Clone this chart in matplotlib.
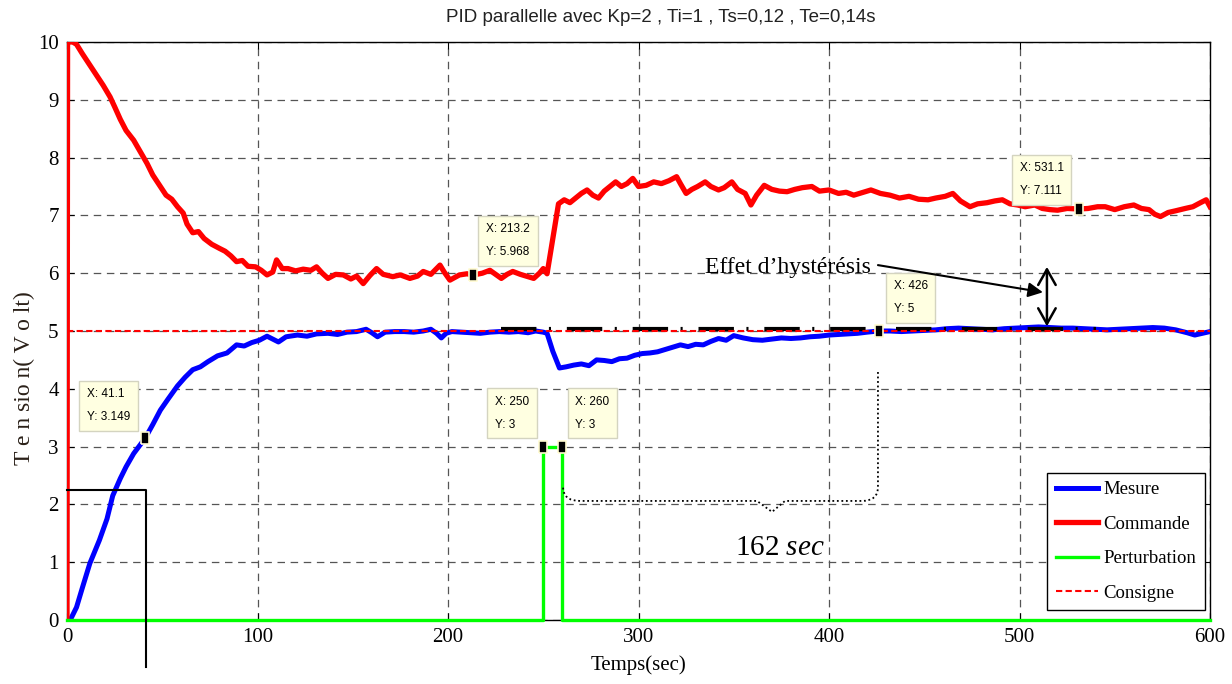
import matplotlib
matplotlib.use("Agg")
import matplotlib.pyplot as plt
from matplotlib.path import Path
from matplotlib.patches import PathPatch
from matplotlib.lines import Line2D

plt.rcParams["font.family"] = ["Liberation Serif", "DejaVu Serif"]
plt.rcParams["mathtext.fontset"] = "custom"
plt.rcParams["mathtext.rm"] = "Liberation Serif"
plt.rcParams["mathtext.it"] = "Liberation Serif:italic"

# ---------------- data ----------------
mesure_t = [0, 2, 5, 8, 12, 17, 21, 24, 28, 31, 35, 41.1, 45, 49, 53, 58, 62, 66, 70, 74,
            79, 84, 89, 93, 97, 101, 105, 108, 111, 115, 121, 126, 131, 137, 142, 147, 152,
            157, 160, 163, 167, 172, 177, 182, 187, 191, 194, 196.5, 199, 202, 207, 212,
            217, 222, 227, 232, 237, 242, 246, 250, 252, 255, 258.5, 262, 266, 270, 274,
            278, 282, 286, 290, 294, 298, 302, 306, 310, 314, 318, 322, 326, 330, 334, 338,
            342, 346, 350, 355, 360, 365, 370, 375, 380, 385, 390, 395, 400, 405, 410, 415,
            420, 426, 432, 438, 444, 450, 456, 462, 468, 474, 480, 486, 492, 498, 504, 510,
            516, 522, 528, 534, 540, 546, 552, 558, 564, 570, 576, 582, 588, 592, 596, 600]
mesure_v = [0.0, 0.02, 0.22, 0.55, 0.98, 1.38, 1.75, 2.15, 2.45, 2.65, 2.88, 3.149, 3.38,
            3.63, 3.82, 4.05, 4.20, 4.33, 4.38, 4.47, 4.57, 4.62, 4.76, 4.74, 4.80, 4.84,
            4.91, 4.86, 4.81, 4.90, 4.93, 4.91, 4.95, 4.96, 4.94, 4.98, 4.99, 5.03, 4.97,
            4.90, 4.98, 4.99, 4.99, 4.98, 5.00, 5.03, 4.96, 4.88, 4.96, 4.99, 4.98, 4.97,
            4.96, 4.98, 4.99, 4.98, 4.99, 4.97, 5.00, 4.98, 4.96, 4.65, 4.36, 4.38, 4.41,
            4.43, 4.40, 4.50, 4.49, 4.47, 4.52, 4.53, 4.58, 4.61, 4.62, 4.64, 4.68, 4.72,
            4.76, 4.73, 4.77, 4.76, 4.82, 4.87, 4.84, 4.92, 4.88, 4.85, 4.84, 4.86, 4.88,
            4.87, 4.88, 4.90, 4.91, 4.93, 4.94, 4.95, 4.96, 4.98, 5.00, 5.00, 4.99, 5.00,
            5.01, 5.02, 5.04, 5.05, 5.04, 5.03, 5.02, 5.04, 5.05, 5.06, 5.07, 5.06, 5.05,
            5.05, 5.04, 5.03, 5.02, 5.03, 5.04, 5.05, 5.06, 5.05, 5.02, 4.97, 4.93, 4.96,
            4.99]

commande_t = [0, 0.3, 3, 5, 8, 12, 15, 19, 22.6, 25, 28, 31, 35, 38, 42, 45, 49, 52, 55, 58,
              61, 63, 66, 69, 72, 76, 80, 83, 86, 89, 92, 95, 99, 102, 105, 108, 110, 113,
              116, 120, 124, 128, 131, 134, 137, 141, 145, 149, 152, 155.5, 159, 162.5, 166,
              171, 175, 180, 184, 187, 191, 195.8, 198, 201, 206, 210, 213.2, 218, 222, 225,
              228, 231, 234, 238, 241, 245, 248, 250, 252, 255, 258, 261, 264, 267, 270,
              273, 276, 279, 282, 285, 288, 291, 294, 297, 300, 304, 308, 312, 316, 320,
              322, 325, 328, 331, 335, 338, 342, 345, 349, 352, 356, 359, 362, 366, 370,
              374, 378, 382, 386, 391, 395, 400, 405, 409, 413, 418, 422, 427, 432, 437,
              442, 447, 452, 456, 461, 465, 469, 474, 478, 483, 487, 491, 495, 499, 503,
              508, 512, 516, 520, 525, 531.1, 536, 541, 545, 550, 555, 560, 564, 568, 571,
              574, 578, 582, 587, 591, 595, 598, 600]
commande_v = [0.0, 10.0, 10.0, 9.96, 9.80, 9.60, 9.45, 9.25, 9.05, 8.88, 8.66, 8.47, 8.30,
              8.13, 7.90, 7.70, 7.50, 7.35, 7.28, 7.15, 7.04, 6.85, 6.70, 6.72, 6.60, 6.50,
              6.43, 6.38, 6.30, 6.20, 6.22, 6.12, 6.11, 6.05, 5.97, 6.02, 6.23, 6.08, 6.08,
              6.04, 6.07, 6.05, 6.11, 6.00, 5.91, 5.98, 5.97, 5.90, 5.95, 5.82, 5.96, 6.08,
              5.98, 5.94, 5.97, 5.91, 5.95, 6.03, 5.98, 6.14, 6.02, 5.88, 5.97, 5.99, 5.968,
              6.00, 6.05, 5.98, 5.91, 5.98, 6.03, 5.98, 5.95, 5.91, 6.00, 6.08, 5.99, 6.60,
              7.20, 7.27, 7.22, 7.30, 7.38, 7.44, 7.35, 7.30, 7.42, 7.50, 7.58, 7.50, 7.55,
              7.64, 7.50, 7.52, 7.58, 7.55, 7.60, 7.67, 7.55, 7.38, 7.45, 7.50, 7.58, 7.50,
              7.44, 7.48, 7.58, 7.45, 7.38, 7.18, 7.35, 7.52, 7.45, 7.42, 7.41, 7.45, 7.48,
              7.50, 7.42, 7.44, 7.38, 7.40, 7.35, 7.40, 7.44, 7.38, 7.35, 7.30, 7.33, 7.28,
              7.27, 7.30, 7.33, 7.38, 7.25, 7.15, 7.20, 7.22, 7.25, 7.27, 7.20, 7.18, 7.15,
              7.18, 7.12, 7.10, 7.09, 7.12, 7.111, 7.12, 7.15, 7.15, 7.10, 7.15, 7.18, 7.12,
              7.10, 7.02, 6.98, 7.05, 7.08, 7.12, 7.15, 7.22, 7.27, 7.15]

perturbation_t = [0, 250, 250, 260, 260, 600]
perturbation_v = [0, 0, 3, 3, 0, 0]

consigne_t = [0, 600]
consigne_v = [5, 5]

# steady-state reference segment (black dash-dot)
palier_t = [228, 540]
palier_v = [5.04, 5.04]

# data tips
tips_x = [41.1, 213.2, 531.1, 426, 250, 260]
tips_y = [3.149, 5.968, 7.111, 5, 3, 3]
tips_lbl_x = ["41.1", "213.2", "531.1", "426", "250", "260"]
tips_lbl_y = ["3.149", "5.968", "7.111", "5", "3", "3"]

x_ticks = [0, 100, 200, 300, 400, 500, 600]
y_ticks = list(range(0, 11))

# ---------------- figure ----------------
W, H = 1232, 684
fig = plt.figure(figsize=(W / 100, H / 100), dpi=100)
ax = fig.add_axes([67 / W, 1 - 620 / H, (1210 - 67) / W, (620 - 42) / H])

ax.plot(mesure_t, mesure_v, color="#0000ff", lw=3.6, label="Mesure", zorder=3,
        solid_joinstyle="round")
ax.plot(commande_t, commande_v, color="#ff0000", lw=3.8, label="Commande", zorder=3,
        solid_joinstyle="round")
ax.plot(perturbation_t, perturbation_v, color="#00ff00", lw=2.4, label="Perturbation",
        zorder=3, clip_on=False)
ax.plot(palier_t, palier_v, color="black", lw=3.0, zorder=4,
        linestyle=(0, (8.5, 3.0, 0.5, 3.8)))
ax.plot(consigne_t, consigne_v, color="#ff0000", lw=1.5, linestyle=(0, (3, 1.6)),
        label="Consigne", zorder=5)

ax.set_xlim(0, 600)
ax.set_ylim(0, 10)
ax.set_xticks(x_ticks)
ax.set_yticks(y_ticks)
ax.tick_params(direction="in", length=5, width=0.8, top=True, right=True,
               labelsize=15, pad=6)
ax.grid(True, color="#555555", lw=0.9, linestyle=(0, (6, 4.5)))
for s in ax.spines.values():
    s.set_linewidth(1.0)
    s.set_color("black")

ax.set_xlabel("Temps(sec)", fontsize=15, labelpad=6)
fig.text(24 / W, 1 - 378 / H, "T e n sio n( V o lt)", rotation=90, fontsize=17,
         color="#2a2018", ha="center", va="center")
fig.text(661 / W, 1 - 18 / H, "PID parallelle avec Kp=2 , Ti=1 , Ts=0,12 , Te=0,14s",
         family=["Liberation Sans", "DejaVu Sans"], fontsize=13.5, color="#222222",
         ha="center", va="center")

# data tips
tip_marker = [(-2, -3), (2, -3), (2, 3), (-2, 3), (-2, -3)]
ax.plot(tips_x, tips_y, linestyle="none", marker=tip_marker, ms=9, mfc="black",
        mec="#fffbd0", mew=1.2, zorder=7, clip_on=False)
tip_offsets = [(-15, 15, "right"), (13, 17, "left"), (-15, 12, "right"),
               (15, 16, "left"), (-14, 16, "right"), (13, 16, "left")]
for x, y, lx, ly, (dx, dy, ha) in zip(tips_x, tips_y, tips_lbl_x, tips_lbl_y, tip_offsets):
    ax.annotate(f"X: {lx}\nY: {ly}", xy=(x, y), xytext=(dx, dy),
                textcoords="offset pixels", ha=ha, va="bottom", fontsize=8.5,
                multialignment="left",
                family=["Liberation Sans", "DejaVu Sans"], linespacing=2.2,
                bbox=dict(boxstyle="square,pad=0.65", fc="#ffffe1", ec="#d4d4c0", lw=1),
                zorder=8)

# hysteresis annotation
ax.text(335, 6.09, "Effet d\u2019hystérésis", fontsize=17, ha="left", va="center",
        zorder=9)
ax.annotate("", xy=(512.3, 5.67), xytext=(425.7, 6.14),
            arrowprops=dict(arrowstyle="-|>", color="black", lw=1.5, mutation_scale=22,
                            shrinkA=0, shrinkB=0), zorder=9)
ax.annotate("", xy=(514.4, 6.11), xytext=(514.4, 5.08),
            arrowprops=dict(arrowstyle="<->,head_length=0.8,head_width=0.45",
                            color="black", lw=1.8, mutation_scale=14,
                            shrinkA=0, shrinkB=0), zorder=9)

# rise-time marker lines
ax.add_line(Line2D([0, 41.5, 41.5], [2.25, 2.25, -0.81], color="black", lw=1.5,
                   clip_on=False, zorder=6))

# recovery-time brace
brace_verts = [(425.7, 4.29), (425.7, 2.30), (425.7, 2.06), (417.3, 2.06),
               (376.9, 2.06), (370.1, 1.87), (362.2, 2.06), (269.3, 2.06),
               (260.4, 2.06), (260.4, 2.30)]
brace_codes = [Path.MOVETO, Path.LINETO, Path.CURVE3, Path.CURVE3, Path.LINETO,
               Path.LINETO, Path.LINETO, Path.LINETO, Path.CURVE3, Path.CURVE3]
ax.add_patch(PathPatch(Path(brace_verts, brace_codes), fill=False, ec="black", lw=1.3,
                       linestyle=(0, (1, 1.5)), zorder=6))
ax.text(374.3, 1.25, r"162 $sec$", fontsize=21, ha="center", va="center", zorder=6)

leg = ax.legend(loc="lower right", bbox_to_anchor=(0.9956, 0.0173), borderaxespad=0,
                fontsize=13.5, frameon=True, fancybox=False, edgecolor="black",
                framealpha=1, handlelength=2.25, handletextpad=0.3, labelspacing=0.92,
                borderpad=0.45)
leg.get_frame().set_linewidth(1.0)
leg.set_zorder(10)

fig.savefig("out.png", dpi=100)
